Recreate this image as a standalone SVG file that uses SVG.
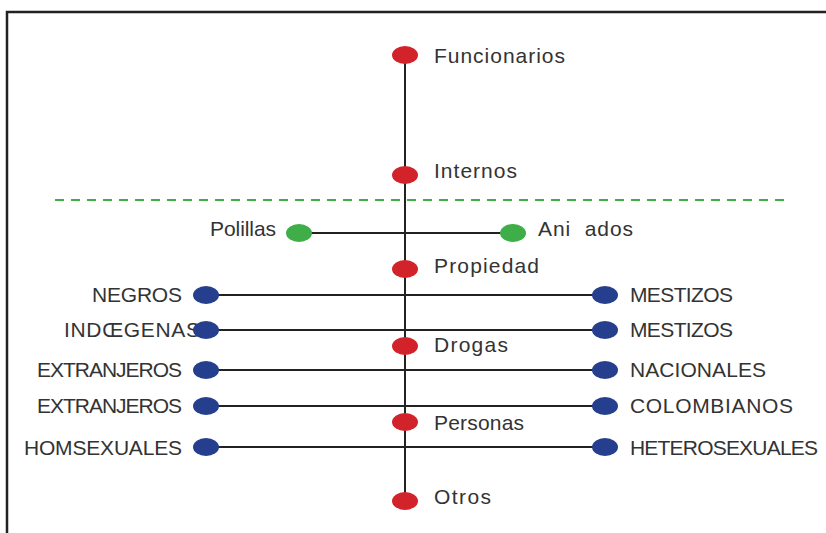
<svg xmlns="http://www.w3.org/2000/svg" width="826" height="533" viewBox="0 0 826 533">
<style>
.t{font-family:"Liberation Sans",Arial,sans-serif;font-size:21px;fill:#333}
.e{text-anchor:end}
.r{fill:#d2232a}
.g{fill:#3fae49}
.b{fill:#253f8e}
.ln{stroke:#222;stroke-width:2;fill:none}
</style>
<rect width="826" height="533" fill="#fff"/>
<path d="M7 533V12H826" stroke="#222" stroke-width="2.5" fill="none"/>
<g id="connectors">
<line class="ln" x1="405" y1="55" x2="405" y2="501"/>
<line x1="55" y1="200" x2="790" y2="200" stroke="#3fae49" stroke-width="2" stroke-dasharray="9,7"/>
<line class="ln" x1="299" y1="233" x2="513" y2="233"/>
<line class="ln" x1="206" y1="295" x2="605" y2="295"/>
<line class="ln" x1="206" y1="330" x2="605" y2="330"/>
<line class="ln" x1="206" y1="370" x2="605" y2="370"/>
<line class="ln" x1="206" y1="406" x2="605" y2="406"/>
<line class="ln" x1="206" y1="447" x2="605" y2="447"/>
</g>
<g id="funcionarios"><ellipse class="r" cx="405" cy="55" rx="13" ry="9"/><text class="t" x="434" y="63" textLength="131">Funcionarios</text></g>
<g id="internos"><ellipse class="r" cx="405" cy="175" rx="13" ry="9"/><text class="t" x="434" y="178" textLength="83">Internos</text></g>
<g id="polillas"><ellipse class="g" cx="299" cy="233" rx="13" ry="9"/><text class="t" x="210" y="236" textLength="66">Polillas</text></g>
<g id="animados"><ellipse class="g" cx="513" cy="233" rx="13" ry="9"/><text class="t" x="538" y="236" xml:space="preserve" textLength="95">Ani  ados</text></g>
<g id="propiedad"><ellipse class="r" cx="405" cy="269" rx="13" ry="9"/><text class="t" x="434" y="273" textLength="105">Propiedad</text></g>
<g id="drogas"><ellipse class="r" cx="405" cy="346" rx="13" ry="9"/><text class="t" x="434" y="352" textLength="74">Drogas</text></g>
<g id="personas"><ellipse class="r" cx="405" cy="422" rx="13" ry="9"/><text class="t" x="434" y="430" textLength="90">Personas</text></g>
<g id="otros"><ellipse class="r" cx="405" cy="501" rx="13" ry="9"/><text class="t" x="434" y="504" textLength="57">Otros</text></g>
<g id="negros"><ellipse class="b" cx="206" cy="295" rx="13" ry="9"/><text class="t" x="92" y="302" textLength="90">NEGROS</text></g>
<g id="indigenas"><text class="t" x="64" y="337" textLength="136">INDŒGENAS</text><ellipse class="b" cx="206" cy="330" rx="13" ry="9"/></g>
<g id="extranjeros1"><ellipse class="b" cx="206" cy="370" rx="13" ry="9"/><text class="t" x="37" y="377" textLength="145">EXTRANJEROS</text></g>
<g id="extranjeros2"><ellipse class="b" cx="206" cy="406" rx="13" ry="9"/><text class="t" x="37" y="413" textLength="145">EXTRANJEROS</text></g>
<g id="homsexuales"><ellipse class="b" cx="206" cy="447" rx="13" ry="9"/><text class="t" x="24" y="455" textLength="158">HOMSEXUALES</text></g>
<g id="mestizos1"><ellipse class="b" cx="605" cy="295" rx="13" ry="9"/><text class="t" x="630" y="302" textLength="103">MESTIZOS</text></g>
<g id="mestizos2"><ellipse class="b" cx="605" cy="330" rx="13" ry="9"/><text class="t" x="630" y="337" textLength="103">MESTIZOS</text></g>
<g id="nacionales"><ellipse class="b" cx="605" cy="370" rx="13" ry="9"/><text class="t" x="630" y="377" textLength="136">NACIONALES</text></g>
<g id="colombianos"><ellipse class="b" cx="605" cy="406" rx="13" ry="9"/><text class="t" x="630" y="413" textLength="163">COLOMBIANOS</text></g>
<g id="heterosexuales"><ellipse class="b" cx="605" cy="447" rx="13" ry="9"/><text class="t" x="630" y="455" textLength="188">HETEROSEXUALES</text></g>
</svg>
